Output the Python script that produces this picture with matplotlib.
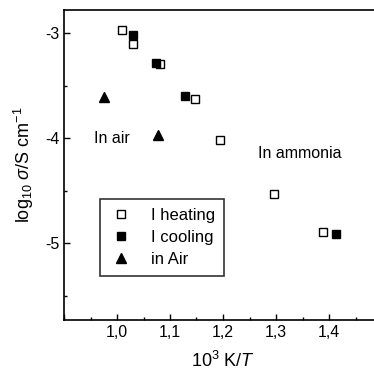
import matplotlib
matplotlib.use("Agg")
import matplotlib.pyplot as plt
from matplotlib.ticker import MultipleLocator, FuncFormatter

plt.rcParams["font.family"] = ["Liberation Sans", "DejaVu Sans"]
plt.rcParams["mathtext.fontset"] = "custom"
plt.rcParams["mathtext.rm"] = "Liberation Sans"
plt.rcParams["mathtext.it"] = "Liberation Sans:italic"

# 10^3 K / T  vs  log10 conductivity
heating_x = [1.009, 1.031, 1.082, 1.148, 1.194, 1.296, 1.389]
heating_y = [-2.97, -3.10, -3.29, -3.63, -4.02, -4.53, -4.89]

cooling_x = [1.031, 1.073, 1.128, 1.413]
cooling_y = [-3.02, -3.28, -3.60, -4.91]

air_x = [0.975, 1.077]
air_y = [-3.61, -3.97]

fig = plt.figure(figsize=(3.74, 3.73), dpi=100)
W, H = 374, 373
left, right, top, bottom = 64, 382, 10, 320
ax = fig.add_axes([left / W, 1 - bottom / H, (right - left) / W, (bottom - top) / H])

ms = 6
ax.plot(heating_x, heating_y, "s", ms=ms, mfc="white", mec="black", mew=1.0,
        ls="none", label="I heating")
ax.plot(cooling_x, cooling_y, "s", ms=ms, mfc="black", mec="black", mew=1.0,
        ls="none", label="I cooling")
ax.plot(air_x, air_y, "^", ms=ms + 1, mfc="black", mec="black", mew=1.0,
        ls="none", label="in Air")

ax.set_xlim(0.9, 1.5)
ax.set_ylim(-5.73, -2.78)

ax.xaxis.set_major_locator(MultipleLocator(0.1))
ax.xaxis.set_minor_locator(MultipleLocator(0.05))
ax.yaxis.set_major_locator(MultipleLocator(1))
ax.yaxis.set_minor_locator(MultipleLocator(0.5))
ax.xaxis.set_major_formatter(FuncFormatter(
    lambda v, p: "" if v < 0.95 or v > 1.45 else f"{v:.1f}".replace(".", ",")))
ax.yaxis.set_major_formatter(FuncFormatter(lambda v, p: f"{v:.0f}"))

ax.tick_params(which="both", direction="in", top=False, right=False,
               labelsize=11.5, width=1)
ax.tick_params(which="major", length=4)
ax.tick_params(which="minor", length=2.5)
for s in ax.spines.values():
    s.set_linewidth(1.2)

ax.set_xlabel(r"10$^3$ K/$T$", fontsize=13, labelpad=8)
ax.set_ylabel(r"log$_{10}$ $\sigma$/S cm$^{-1}$", fontsize=13, labelpad=6)

ax.text(0.957, -4.0, "In air", fontsize=11.5, va="center", ha="left")
ax.text(1.266, -4.15, "In ammonia", fontsize=11.5, va="center", ha="left")

leg = ax.legend(loc="upper left", bbox_to_anchor=((100 - left) / (right - left),
                                                   (bottom - 199) / (bottom - top)),
                fontsize=12, frameon=True, fancybox=False, edgecolor="black",
                handletextpad=1.1, labelspacing=0.4, borderpad=0.55,
                handlelength=1.4, borderaxespad=0)
leg.get_frame().set_linewidth(1.2)

fig.savefig("out.png", dpi=100)
